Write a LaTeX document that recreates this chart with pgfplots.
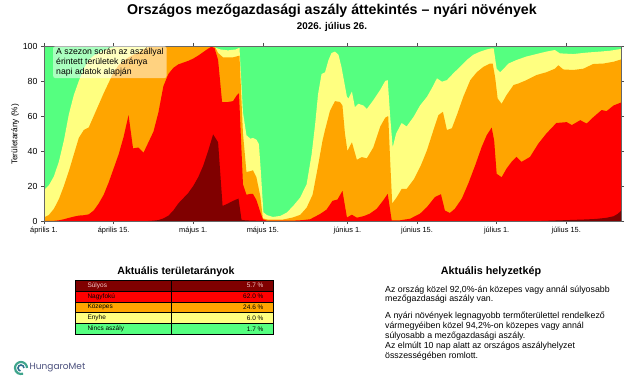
\documentclass[border=0pt]{standalone}
\usepackage{fontspec}
\setmainfont{Liberation Sans}
\newfontfamily\logofont{Poppins}
\usepackage{pgfplots}
\pgfplotsset{compat=1.18}

\definecolor{cSev}{HTML}{800000}
\definecolor{cExt}{HTML}{FF0000}
\definecolor{cMod}{HTML}{FFA500}
\definecolor{cMild}{HTML}{FFFF80}
\definecolor{cNone}{HTML}{55FF80}
\definecolor{sevText}{HTML}{F4C8C8}
\definecolor{logoText}{HTML}{4A4F7C}
\definecolor{logoA}{HTML}{3FA58C}
\definecolor{logoB}{HTML}{2E6F8E}

\begin{document}
\begin{tikzpicture}[x=1pt,y=1pt]
\path[use as bounding box] (0,0) rectangle (640,384);

% titles
\node[font=\fontsize{14.2}{16}\selectfont\bfseries] at (332,373) {Országos mezőgazdasági aszály áttekintés – nyári növények};
\node[font=\fontsize{9.8}{11}\selectfont\bfseries] at (332,357.5) {2026. július 26.};

% cumulative share of drought classes (upper edge of each class), days from 1 April
\begin{axis}[
  at={(44pt,163pt)}, anchor=south west,
  width=577pt, height=175pt, scale only axis,
  xmin=0, xmax=116, ymin=0, ymax=100,
  axis on top,
  xtick={0,14,30,44,61,75,91,105},
  xticklabels={április 1., április 15., május 1., május 15., június 1., június 15., július 1., július 15.},
  ytick={0,20,40,60,80,100},
  tick align=outside, major tick length=3pt,
  tick style={color=black!70, line width=0.5pt},
  axis line style={color=black!60, line width=0.6pt},
  xticklabel style={font=\fontsize{7.4}{8}\selectfont},
  yticklabel style={font=\fontsize{8.8}{10}\selectfont},
  /pgf/number format/assume math mode=true,
  ylabel={Területarány (\%)},
  ylabel style={font=\fontsize{8.3}{10}\selectfont, at={(axis description cs:-0.05,0.495)}, anchor=center},
]
% Nincs aszály (fills the rest)
\addplot[fill=cNone, draw=none] coordinates {(0,100) (116,100)} \closedcycle;
% Enyhe
\addplot[fill=cMild, draw=none] coordinates {
(0,17.6) (1,20.5) (2,25.5) (3,34) (4,46) (5,61) (6,72) (7,80) (8,87) (9,92) (10,94.5) (11,96) (12,97.5) (13,98.5) (14,99.2) (15,99.6) (16,100) (34,100) (34.5,99) (35.5,98) (37,97.5) (38.5,98) (39.3,99) (40,62) (40.7,49) (41.5,47) (42,47.5) (42.7,46.5) (43.2,44) (43.6,28) (44.1,5) (44.8,3.4) (46,2.3) (47.5,2.9) (48.8,4.8) (50.1,8.6) (51.5,13.4) (52.8,21) (53.8,38) (54.5,55) (55.1,72.5) (55.8,84) (56.5,85) (57.2,92) (57.8,96) (58.5,96.8) (59.2,95) (59.8,88) (60.9,71) (61.2,70) (61.9,74) (62.5,65) (63.2,67) (64.2,66) (64.9,64) (66.2,69) (67.6,75) (68.6,80) (69.1,80.5) (69.6,59.5) (70.1,42) (70.8,50) (71.9,56) (72.9,54) (74.3,59.5) (75.6,66) (77,71) (78,76) (79,81.5) (80,79.6) (81,80.5) (82.3,84.4) (83.6,88) (85,92) (86.3,95) (87.7,96.8) (89,98) (90,98.7) (90.4,98.7) (91,87) (91.7,85) (92.4,87) (93.4,90) (95,92) (97,94) (99,95.4) (101,96.8) (102.7,97.7) (103.7,95.8) (106.4,95.4) (109,96.2) (111.8,96.8) (113.8,97.3) (116,98.3)
} \closedcycle;
% Közepes
\addplot[fill=cMod, draw=none] coordinates {
(0,2) (1,3.5) (2,7) (3,12.5) (4,20) (5,28.5) (6,38) (7,47.5) (8,52) (9,53.5) (10,60) (11,66.5) (12,73) (13,79) (14,85) (15,89) (16,91.5) (17,93.5) (18,95) (19,96.5) (20,98) (21,99.3) (22,100) (33.8,100) (34.4,99.3) (35,96) (36,93.5) (38,93.5) (39.3,94.5) (40,50) (40.7,28) (41.5,28.5) (42,29) (42.7,25) (43.5,14) (44,1.5) (45,0.8) (48,0.8) (50,2) (51.5,3.5) (52.8,7.6) (54,15) (55,30) (55.5,38) (56,46) (56.5,52) (57.5,63) (58.5,68.5) (59.5,68) (60,66) (60.5,50) (61,40) (61.9,45) (62.9,35) (63.9,36.5) (64.9,35.8) (66.2,42) (67.6,54) (68.6,59) (69.2,60) (69.6,34) (70,10) (70.9,13.5) (71.9,18.3) (72.9,18.3) (74.4,24) (75.8,32) (77,40.5) (78.3,52) (79.3,60.5) (80.2,62.4) (81,52) (82,53) (83,60.5) (84.3,71) (85.7,80.5) (87,85) (88.3,88) (89.7,90) (90.2,90) (90.7,82) (91.2,70) (92,67) (93,72) (94.4,77.7) (95.4,78.6) (97,80.5) (99,83.4) (101,85) (102.7,87) (103.4,89) (104.4,86.6) (106.4,86.3) (108.4,87) (110.4,89.7) (112.5,90) (114.5,91) (116,92.3)
} \closedcycle;
% Nagyfokú
\addplot[fill=cExt, draw=none] coordinates {
(0,0) (2,0.1) (3,0.4) (4,1) (5,1.8) (6,2.5) (7,3.1) (8,3.3) (9,3.8) (10,6) (11,10) (12,15) (13,22) (14,30) (15,38) (16,48) (17,60.5) (17.9,41.5) (19,42) (20,39) (21,45) (22,51) (23,62) (24,77) (25,84) (26,87.5) (27,89.5) (28,90.5) (29,91.5) (30,92.8) (31,94.5) (32,96.5) (33,98.5) (33.7,99.6) (34.3,98.7) (35,92) (35.8,68) (37,68) (38,68.5) (38.8,72) (39.2,73) (40,21) (40.7,15) (41.5,15.5) (42,15.5) (42.7,12) (43.5,5) (44,1) (44.8,0.2) (50,0.2) (52,0.5) (53.5,1) (55.5,4) (56.8,6.5) (58,11.5) (59,12.3) (60,17.2) (60.9,2) (61.9,3.6) (62.9,1.9) (64.3,2.8) (65.5,4.2) (66.9,7) (68.2,11.8) (69.1,15.5) (69.9,0.4) (71.6,0.4) (73.6,1.3) (75.6,4.2) (77,8) (78.6,13.7) (79.8,15.3) (80.6,6) (81.6,4.6) (82.6,7) (84,12.8) (85.3,21.4) (86.7,31.9) (88,42.4) (89,49) (90,53.4) (90.5,46) (91,27) (92,25) (93,30) (94,33.8) (95,36.6) (96,33.8) (97.7,36.6) (99.4,44.3) (101,50) (103,56) (105.1,56.5) (106.1,54.8) (107.8,57.6) (109.1,55.7) (110.5,59.5) (112.1,63.4) (113.1,62.8) (114.5,66) (116,67.7)
} \closedcycle;
% Súlyos
\addplot[fill=cSev, draw=none] coordinates {
(0,0) (21,0) (22,0.2) (23,0.5) (24,1.5) (25,3) (26,6) (27,10) (28,13) (29,16) (30,20) (31,25) (32,31.5) (33,40) (34,49.5) (35,45) (35.9,8.6) (37,10) (38,11.5) (39.1,12.8) (39.7,0.8) (40,0.5) (41,0.3) (43,0.1) (44,0) (100,0) (103,0.3) (106,0.6) (109,0.9) (111,1.2) (113,1.8) (114.5,2.7) (115.3,4) (116,5.7)
} \closedcycle;
\end{axis}

% note in the upper left corner of the plot
\node[anchor=north west, fill=white, fill opacity=0.5, text opacity=1, rounded corners=2pt,
      inner xsep=3pt, inner ysep=2pt, align=left, font=\fontsize{8.7}{9.8}\selectfont]
  at (53,338) {A szezon során az aszállyal\\érintett területek aránya\\napi adatok alapján};

% current shares table
\node[font=\fontsize{10.6}{12}\selectfont\bfseries] at (176,112.5) {Aktuális területarányok};
\foreach \i/\name/\val/\col/\tcol in {0/Súlyos/5.7 \%/cSev/sevText, 1/Nagyfokú/62.0 \%/cExt/black, 2/Közepes/24.6 \%/cMod/black, 3/Enyhe/6.0 \%/cMild/black, 4/Nincs aszály/1.7 \%/cNone/black}{
  \pgfmathsetmacro{\ytop}{104-10.9*\i}
  \pgfmathsetmacro{\ybot}{104-10.9*(\i+1)}
  \fill[\col] (75,\ytop) rectangle (273,\ybot);
  \draw[black, line width=0.6pt] (75,\ytop) rectangle (171,\ybot);
  \draw[black, line width=0.6pt] (171,\ytop) rectangle (273,\ybot);
  \node[anchor=west, font=\fontsize{6.5}{7}\selectfont, text=\tcol] at (84,{(\ytop+\ybot)/2}) {\name};
  \node[anchor=east, font=\fontsize{6.5}{7}\selectfont, text=\tcol] at (267,{(\ytop+\ybot)/2}) {\val};
}

% situation summary
\node[font=\fontsize{10.8}{12}\selectfont\bfseries] at (491,112) {Aktuális helyzetkép};
\begin{scope}[every node/.style={anchor=base west, inner sep=0pt, font=\fontsize{8.8}{10}\selectfont}]
\node at (385,92) {Az ország közel 92,0\%-án közepes vagy annál súlyosabb};
\node at (385,82.5) {mezőgazdasági aszály van.};
\node at (385,66) {A nyári növények legnagyobb termőterülettel rendelkező};
\node at (385,56) {vármegyéiben közel 94,2\%-on közepes vagy annál};
\node at (385,46) {súlyosabb a mezőgazdasági aszály.};
\node at (385,36) {Az elmúlt 10 nap alatt az országos aszályhelyzet};
\node at (385,25.5) {összességében romlott.};
\end{scope}

% logo
\draw[logoA, line width=2.2pt] (27,16) arc (0:290:6);
\draw[logoB, line width=1.6pt] (24,16) arc (0:260:3);
\node[anchor=west, inner sep=0pt, text=logoText, font=\logofont\fontsize{9}{10}\selectfont] at (29.5,16.5) {HungaroMet};
\end{tikzpicture}
\end{document}
